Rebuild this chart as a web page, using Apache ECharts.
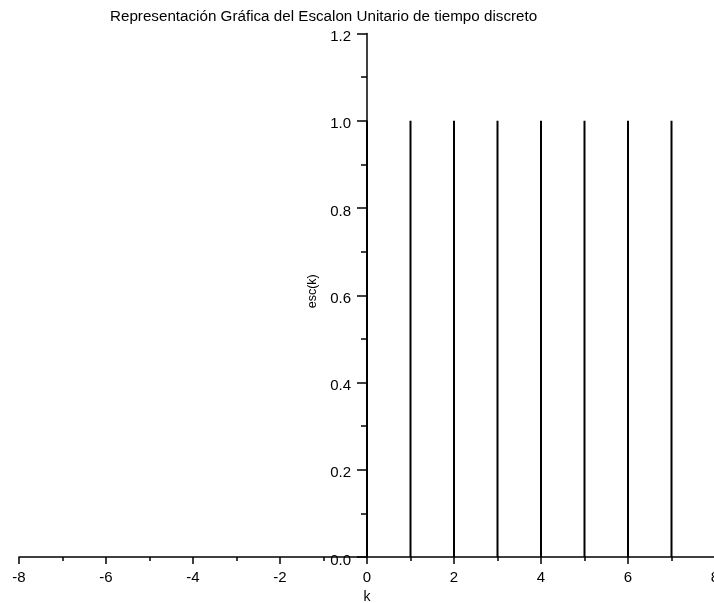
<!DOCTYPE html>
<html>
<head>
<meta charset="utf-8">
<script src="https://cdn.jsdelivr.net/npm/echarts@6/dist/echarts.min.js"></script>
<style>html,body{margin:0;padding:0;background:#fff}#c{width:714px;height:603px}</style>
</head>
<body>
<div id="c"></div>
<script>
const kValues = [-8,-7,-6,-5,-4,-3,-2,-1,0,1,2,3,4,5,6,7,8];
const escValues = [0,0,0,0,0,0,0,0,1,1,1,1,1,1,1,1,1];
const xTicks = [-8,-6,-4,-2,0,2,4,6,8];
const yTicks = [0.0,0.2,0.4,0.6,0.8,1.0,1.2];
const titleText = 'Representación Gráfica del Escalon Unitario de tiempo discreto';

const FONT = '"Liberation Sans", Arial, sans-serif';
const GRID_LEFT = 19, GRID_RIGHT = -1;
const chart = echarts.init(document.getElementById('c'));
const gridWidth = 714 - GRID_LEFT - GRID_RIGHT;
const xMin = xTicks[0], xMax = xTicks[xTicks.length-1];
const zeroOffset = (0 - xMin) / (xMax - xMin) * gridWidth;
chart.setOption({
  animation: false,
  backgroundColor: '#fff',
  title: {
    text: titleText,
    left: 105, top: 4,
    textStyle: {fontFamily: FONT, fontSize: 15.2, fontWeight: 'normal', color: '#000'}
  },
  grid: {left: GRID_LEFT, right: GRID_RIGHT, top: 33.5, bottom: 46, outerBoundsMode: 'none', containLabel: false},
  xAxis: {
    type: 'value',
    min: xMin, max: xMax, interval: 2,
    name: 'k', nameLocation: 'middle', nameGap: 32,
    nameTextStyle: {fontFamily: FONT, fontSize: 14, color: '#000'},
    axisLine: {onZero: true, lineStyle: {color: '#000', width: 1.5}},
    axisTick: {show: true, inside: false, length: 7, lineStyle: {color: '#000', width: 1.5}},
    minorTick: {show: true, splitNumber: 2, length: 4, lineStyle: {color: '#000', width: 1.5}},
    axisLabel: {fontFamily: FONT, fontSize: 15, color: '#000', margin: 13},
    splitLine: {show: false}
  },
  yAxis: {
    type: 'value',
    min: yTicks[0], max: yTicks[yTicks.length-1], interval: 0.2,
    offset: -zeroOffset,
    name: 'esc(k)', nameLocation: 'middle', nameGap: 45, nameRotate: 90,
    nameTextStyle: {fontFamily: FONT, fontSize: 12.5, color: '#000', padding: [0, 0, 0, 8]},
    axisLine: {show: true, onZero: false, lineStyle: {color: '#000', width: 1.5}},
    axisTick: {show: true, inside: false, length: 10, lineStyle: {color: '#000', width: 1.5}},
    minorTick: {show: true, splitNumber: 2, length: 6, lineStyle: {color: '#000', width: 1.5}},
    axisLabel: {fontFamily: FONT, fontSize: 15, color: '#000', margin: 16,
      verticalAlign: 'top', lineHeight: 7,
      formatter: v => v.toFixed(1)},
    splitLine: {show: false}
  },
  series: [{
    type: 'bar',
    data: kValues.map((k, i) => [k, escValues[i]]),
    barWidth: 2,
    itemStyle: {color: '#000'},
    clip: false
  }]
});
</script>
</body>
</html>
